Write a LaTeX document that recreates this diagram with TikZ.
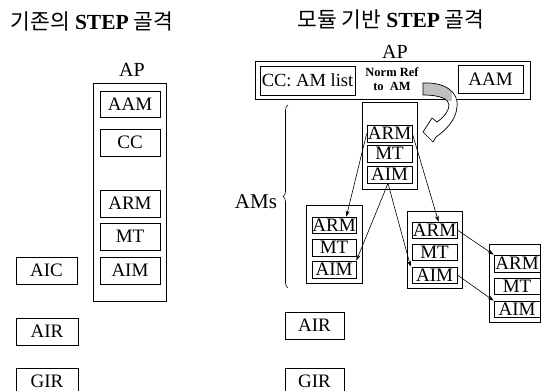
\documentclass[tikz,border=0pt]{standalone}
\usepackage{fontspec}
\setmainfont{Liberation Serif}
\newfontfamily\cjk{Noto Sans CJK KR}
\usetikzlibrary{arrows.meta,decorations.pathreplacing,calc}
\begin{document}
\begin{tikzpicture}[x=1pt,y=-1pt,
  bx/.style={draw, line width=0.7pt, inner sep=0pt, font=\fontsize{19}{19}\selectfont},
  outer/.style={draw, line width=0.7pt, inner sep=0pt},
  ttl/.style={font=\fontsize{21.5}{21.5}\selectfont},
  aplbl/.style={font=\fontsize{20}{20}\selectfont},
  conn/.style={line width=0.6pt, -{Stealth[length=6pt,width=4pt]}}]
\useasboundingbox (0,0) rectangle (541,391);
% titles
\node[ttl] (t1) at (92,21) {\cjk 기존의 {\rmfamily\bfseries STEP} 골격};
\node[ttl] (t2) at (391,19) {\cjk 모듈 기반 {\rmfamily\bfseries STEP} 골격};
% left side
\node[aplbl] (apLl) at (132,70) {AP};
\node[outer, minimum width=73, minimum height=218] (apL) at (129.5,192) {};
\node[bx, minimum width=60, minimum height=26] (aamL) at (130,104) {AAM};
\node[bx, minimum width=60, minimum height=27] (ccL) at (130,142.5) {CC};
\node[bx, minimum width=60, minimum height=27] (armL) at (130,203.5) {ARM};
\node[bx, minimum width=60, minimum height=27] (mtL) at (130,236.5) {MT};
\node[bx, minimum width=60, minimum height=27] (aimL) at (130,270.5) {AIM};
\node[bx, minimum width=61, minimum height=27] (aicL) at (46.5,270.5) {AIC};
\node[bx, minimum width=62, minimum height=27] (airL) at (47,331.5) {AIR};
\node[bx, minimum width=62, minimum height=27] (girL) at (47,381.5) {GIR};
% right side
\node[aplbl] (apRl) at (395,52) {AP};
\node[outer, minimum width=275, minimum height=38] (apR) at (392.5,80) {};
\node[bx, minimum width=95, minimum height=29, font=\fontsize{18.5}{18.5}\selectfont] (ccR) at (307.5,80.5) {CC: AM list};
\node[align=center, font=\fontsize{12.5}{13.5}\selectfont\bfseries, inner sep=0pt] (norm) at (392,79) {Norm Ref\\to\ \ AM};
\node[bx, minimum width=65, minimum height=28] (aamR) at (490.5,79) {AAM};
% curved block arrow
\def\blockarrow{(423,83) .. controls (445,82) and (459,92) .. (457,107)
  .. controls (456,120) and (446,130) .. (436,137) -- (433,142) -- (423,132) -- (432,118)
  -- (437,122) .. controls (444,117) and (449,111) .. (449,105)
  .. controls (449,99) and (440,95) .. (423,95) -- cycle}
\fill[white] \blockarrow;
\begin{scope}
  \clip \blockarrow;
  \fill[gray!50] (420,78) rectangle (452,101);
\end{scope}
\draw[line width=0.7pt] \blockarrow;
% AMs brace
\draw[line width=0.6pt, decorate, decoration={brace, amplitude=5pt}] (288,288) -- (288,105);
\node[font=\fontsize{21}{21}\selectfont] (ams) at (256,202) {AMs};
% AM1
\node[outer, minimum width=55, minimum height=87] (am1) at (389.5,145.5) {};
\node[bx, minimum width=45, minimum height=17] (arm1) at (389.5,133.5) {ARM};
\node[bx, minimum width=45, minimum height=17] (mt1) at (389.5,153.5) {MT};
\node[bx, minimum width=45, minimum height=17] (aim1) at (389.5,174.5) {AIM};
% AM2
\node[outer, minimum width=56, minimum height=78] (am2) at (334,244) {};
\node[bx, minimum width=44, minimum height=16] (arm2) at (334,225) {ARM};
\node[bx, minimum width=44, minimum height=17] (mt2) at (334,247.5) {MT};
\node[bx, minimum width=44, minimum height=17] (aim2) at (334,269.5) {AIM};
% AM3
\node[outer, minimum width=55, minimum height=77] (am3) at (434.5,249.5) {};
\node[bx, minimum width=45, minimum height=16] (arm3) at (434.5,230) {ARM};
\node[bx, minimum width=45, minimum height=16] (mt3) at (434.5,252) {MT};
\node[bx, minimum width=45, minimum height=16] (aim3) at (434.5,275) {AIM};
% AM4
\node[outer, minimum width=51, minimum height=78] (am4) at (514.5,283) {};
\node[bx, minimum width=46, minimum height=17] (arm4) at (517,263.5) {ARM};
\node[bx, minimum width=46, minimum height=16] (mt4) at (517,286) {MT};
\node[bx, minimum width=46, minimum height=16] (aim4) at (517,309) {AIM};
% AIR, GIR right
\node[bx, minimum width=59, minimum height=27] (airR) at (314.5,325.5) {AIR};
\node[bx, minimum width=59, minimum height=27] (girR) at (314.5,381.5) {GIR};
% connectors
\draw[conn] (arm1.west) -- ([xshift=-10pt]arm2.north east);
\draw[conn] (arm1.east) -- ([xshift=4pt]arm3.north);
\draw[conn] ([xshift=-1.5pt]aim1.south) -- (aim2.north east);
\draw[conn] ([xshift=-1.5pt]aim1.south) -- ([xshift=-1pt]aim3.north west);
\draw[conn] (arm3.east) -- (arm4.north west);
\draw[conn] (aim3.east) -- (aim4.north west);
\end{tikzpicture}
\end{document}
